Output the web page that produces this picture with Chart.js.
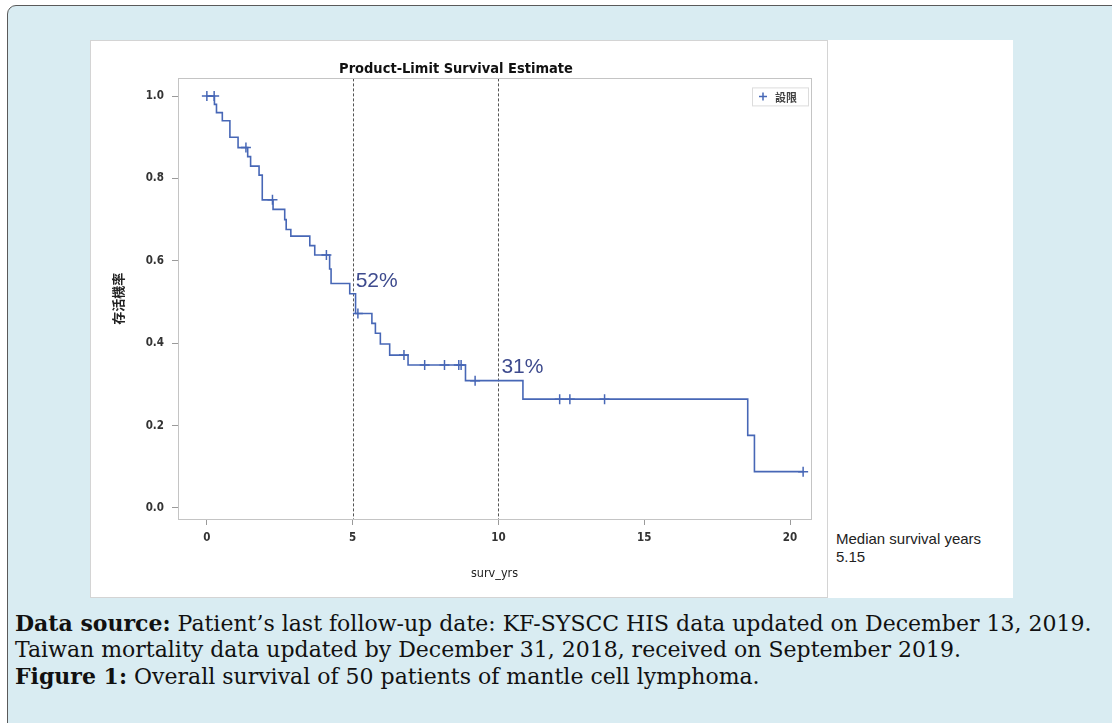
<!DOCTYPE html>
<html>
<head>
<meta charset="utf-8">
<script src="https://cdn.jsdelivr.net/npm/chart.js@4/dist/chart.umd.min.js"></script>
<style>
  body { margin: 0; width: 1112px; height: 723px; background: #fff; overflow: hidden; position: relative; }
  .frame { position: absolute; left: 7px; top: 5px; width: 1120px; height: 740px; background: #d9ecf2;
           border: 1px solid #5a5a5a; border-radius: 9px; }
  .sheet { position: absolute; left: 90px; top: 40px; width: 923px; height: 558px; background: #fff; }
  .chart-box { position: absolute; left: 90px; top: 40px; width: 736px; height: 556px; border: 1px solid #d4d4d4; background: #fff; }
  .median { position: absolute; left: 836px; top: 530px; font: 15px "Liberation Sans", Arial, sans-serif; color: #222; line-height: 18px; }
  .caption { position: absolute; left: 15px; top: 610px; font: 22px "DejaVu Serif", serif; color: #111; line-height: 26px; white-space: nowrap; }
  .caption b { font-weight: bold; }
</style>
</head>
<body>
<div class="frame"></div>
<div class="sheet"></div>
<div class="chart-box"><canvas id="km-chart"></canvas></div>
<div class="median">Median survival years<br>5.15</div>
<div class="caption">
  <div><b>Data source:</b> Patient’s last follow-up date: KF-SYSCC HIS data updated on December 13, 2019.</div>
  <div>Taiwan mortality data updated by December 31, 2018, received on September 2019.</div>
  <div><b>Figure 1:</b> Overall survival of 50 patients of mantle cell lymphoma.</div>
</div>
<script>
'use strict';

/////////////////////
//// Data ///////////

// Kaplan-Meier steps: survival after each drop
const stepTimes = [0, 0.26, 0.33, 0.53, 0.79, 1.07, 1.40, 1.50, 1.79, 1.90, 2.27, 2.67, 2.72, 2.88,
  3.53, 3.70, 4.21, 4.26, 4.90, 5.10, 5.66, 5.78, 5.95, 6.27, 6.90, 8.87, 10.84, 18.55, 18.78, 20.45];
const stepSurv = [1.0, 0.98, 0.96, 0.94, 0.90, 0.875, 0.853, 0.83, 0.808, 0.748, 0.725, 0.70, 0.676, 0.66,
  0.637, 0.614, 0.58, 0.545, 0.52, 0.472, 0.448, 0.424, 0.398, 0.371, 0.347, 0.309, 0.264, 0.176, 0.088, 0.088];

// censored patients
const censorTimes = [0, 0.25, 1.34, 2.25, 4.10, 5.18, 6.76, 7.47, 8.15, 8.64, 8.72, 9.20, 12.10, 12.45, 13.64, 20.45];
const censorSurv = [1.0, 1.0, 0.875, 0.748, 0.614, 0.472, 0.371, 0.347, 0.347, 0.347, 0.347, 0.309, 0.264, 0.264, 0.264, 0.088];

const xTicks = [0, 5, 10, 15, 20];
const yTicks = [0, 0.2, 0.4, 0.6, 0.8, 1.0];
const refYears = [5, 10];
const refLabels = ['52%', '31%'];
const refLabelY = [0.553, 0.345];

const blue = '#4767b6';
const axisFont = { family: "'DejaVu Sans Condensed', 'Liberation Sans Narrow', sans-serif", size: 11.5, weight: 'bold' };

///////////////////////
//// Plugins //////////

const frameAndRefs = {
  id: 'frameAndRefs',
  beforeDatasetsDraw(chart) {
    const { ctx, chartArea: a, scales: { x } } = chart;
    ctx.save();
    ctx.strokeStyle = '#555';
    ctx.lineWidth = 1;
    ctx.setLineDash([3, 2]);
    refYears.forEach(function (yr) {
      const px = Math.round(x.getPixelForValue(yr)) + 0.5;
      ctx.beginPath();
      ctx.moveTo(px, a.top);
      ctx.lineTo(px, a.bottom);
      ctx.stroke();
    });
    ctx.restore();
  },
  afterDatasetsDraw(chart) {
    const { ctx, chartArea: a, scales: { x, y } } = chart;
    ctx.save();
    // plot frame
    ctx.strokeStyle = '#c4c4c4';
    ctx.lineWidth = 1;
    ctx.strokeRect(Math.round(a.left) + 0.5, Math.round(a.top) + 0.5, Math.round(a.width), Math.round(a.height));

    // percentage labels
    ctx.fillStyle = '#3e4b8e';
    ctx.font = "21px 'Liberation Sans', Arial, sans-serif";
    ctx.textBaseline = 'middle';
    refYears.forEach(function (yr, i) {
      ctx.fillText(refLabels[i], x.getPixelForValue(yr) + 3, y.getPixelForValue(refLabelY[i]) + 1);
    });

    // legend box
    const bw = 56, bh = 18;
    const bx = a.right - bw - 3, by = a.top + 9;
    ctx.strokeStyle = '#dcdcdc';
    ctx.strokeRect(bx + 0.5, by + 0.5, bw, bh);
    ctx.strokeStyle = blue;
    ctx.lineWidth = 1.5;
    ctx.beginPath();
    ctx.moveTo(bx + 7, by + bh / 2); ctx.lineTo(bx + 15, by + bh / 2);
    ctx.moveTo(bx + 11, by + bh / 2 - 4); ctx.lineTo(bx + 11, by + bh / 2 + 4);
    ctx.stroke();
    ctx.fillStyle = '#444';
    ctx.font = "bold 11px 'Noto Sans CJK TC', sans-serif";
    ctx.fillText('設限', bx + 23, by + bh / 2 + 1);
    ctx.restore();
  }
};

///////////////////////
//// KM chart /////////

const ctxk = document.getElementById('km-chart').getContext('2d');
const chartk = new Chart(ctxk, {
  type: 'line',
  data: {
    datasets: [{
      label: 'Survival',
      data: stepTimes.map((t, i) => ({ x: t, y: stepSurv[i] })),
      stepped: true,
      borderColor: blue,
      borderWidth: 1.6,
      pointRadius: 0,
      fill: false
    }, {
      label: '設限',
      type: 'scatter',
      data: censorTimes.map((t, i) => ({ x: t, y: censorSurv[i] })),
      pointStyle: 'cross',
      pointRadius: 5,
      borderColor: blue,
      borderWidth: 1.5,
      showLine: false
    }]
  },
  options: {
    responsive: true,
    maintainAspectRatio: false,
    animation: false,
    layout: { padding: { top: 20, left: 10, right: 16, bottom: 8 } },
    plugins: {
      legend: { display: false },
      tooltip: { enabled: false },
      title: {
        display: true,
        text: 'Product-Limit Survival Estimate',
        color: '#111',
        font: { family: "'DejaVu Sans Condensed', 'Liberation Sans Narrow', sans-serif", size: 14.5, weight: 'bold' },
        padding: { top: 0, bottom: 0 }
      }
    },
    scales: {
      x: {
        type: 'linear',
        min: -0.99,
        max: 20.72,
        afterBuildTicks: (scale) => { scale.ticks = xTicks.map(v => ({ value: v })); },
        afterFit: (scale) => { scale.height = 70; },
        grid: { drawOnChartArea: false, drawTicks: true, tickLength: 6, color: '#9a9a9a' },
        border: { display: false },
        ticks: { color: '#333', font: axisFont, padding: 6, maxRotation: 0 },
        title: { display: true, text: 'surv_yrs', color: '#222',
          font: { family: "'DejaVu Sans Condensed', 'Liberation Sans Narrow', sans-serif", size: 12.5 },
          padding: { top: 0, bottom: 8 } }
      },
      y: {
        min: -0.027,
        max: 1.043,
        afterBuildTicks: (scale) => { scale.ticks = yTicks.map(v => ({ value: v })); },
        afterFit: (scale) => { scale.width = 77; },
        grid: { drawOnChartArea: false, drawTicks: true, tickLength: 6, color: '#9a9a9a' },
        border: { display: false },
        ticks: { color: '#333', font: axisFont, padding: 8, callback: (v) => v.toFixed(1) },
        title: { display: true, text: '存活機率', color: '#222',
          font: { family: "'Noto Sans CJK TC', sans-serif", size: 13, weight: 'bold' },
          padding: { top: 9, bottom: 0 } }
      }
    }
  },
  plugins: [frameAndRefs]
});
</script>
</body>
</html>
